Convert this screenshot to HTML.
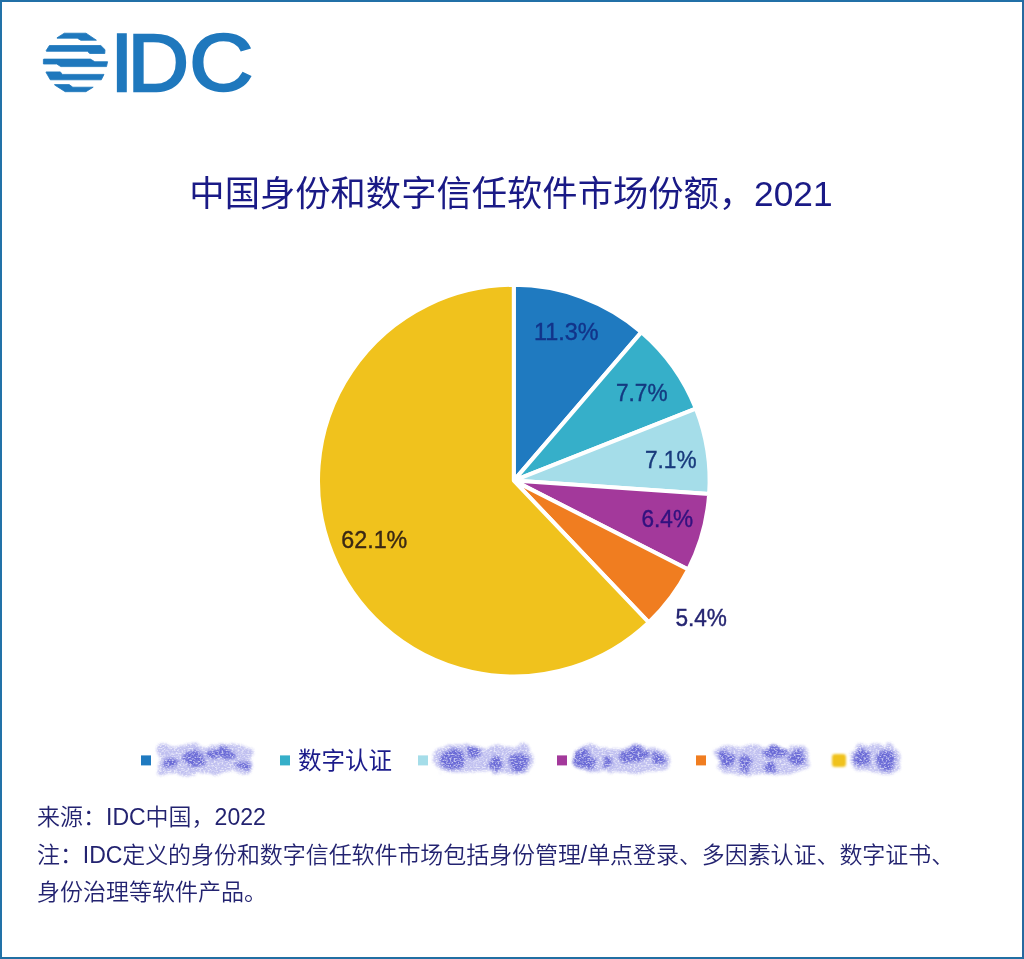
<!DOCTYPE html>
<html lang="zh-CN">
<head>
<meta charset="utf-8">
<title>中国身份和数字信任软件市场份额，2021</title>
<style>
html,body{margin:0;padding:0;background:#fff;}
body{width:1024px;height:959px;position:relative;overflow:hidden;
  font-family:"Liberation Sans","Noto Sans CJK SC",sans-serif;color:#1b1b8a;}
#frame{position:absolute;left:0;top:0;width:1024px;height:959px;box-sizing:border-box;
  border-style:solid;border-color:#2170a7 #27699f #216fa3 #2272a8;border-width:2px;background:#fff;}
#art{position:absolute;left:0;top:0;width:1024px;height:959px;}
.t{position:absolute;white-space:nowrap;line-height:1;}
#title{left:-1px;width:1024px;text-align:center;top:175.6px;font-size:35.3px;color:#1a1a86;}
.note{font-size:23px;left:37px;color:#232370;font-weight:350;}
</style>
</head>
<body>
<div id="frame"></div>
<svg id="art" width="1024" height="959" viewBox="0 0 1024 959">
  <defs>
    <filter id="smudge" x="-10%" y="-30%" width="120%" height="160%" color-interpolation-filters="sRGB">
      <feTurbulence type="fractalNoise" baseFrequency="0.07 0.09" numOctaves="2" seed="4" result="lo"/>
      <feDisplacementMap in="SourceGraphic" in2="lo" scale="12" xChannelSelector="R" yChannelSelector="G" result="d"/>
      <feGaussianBlur in="d" stdDeviation="1.8" result="b"/>
      <feTurbulence type="fractalNoise" baseFrequency="0.5 0.7" numOctaves="2" seed="11" result="n"/>
      <feColorMatrix in="n" type="matrix" values="0 0 0 0 0  0 0 0 0 0  0 0 0 0 0  0 0 0 3.6 -1.0" result="g"/>
      <feComposite in="b" in2="g" operator="in" result="grainy"/>
      <feColorMatrix in="b" type="matrix" values="1 0 0 0 0  0 1 0 0 0  0 0 1 0 0  0 0 0 0.4 0" result="soft"/>
      <feMerge><feMergeNode in="soft"/><feMergeNode in="grainy"/></feMerge>
    </filter>
    <filter id="soft" x="-30%" y="-30%" width="160%" height="160%"><feGaussianBlur stdDeviation="0.9"/></filter>
  </defs>

  <!-- IDC logo -->
  <g id="logo" fill="#1f78bd">
    <g stroke="#1f78bd" stroke-width="0.8" stroke-linejoin="round">
      <polygon points="57,37.8 64.3,33.2 86,33.2 96.4,40.2 80.8,40.3 77.3,38.2 57,38.2"/>
      <polygon points="46.2,50.6 49.4,45.5 100.8,45.5 105,49.7 104.8,53.5 89.8,53.5 87.4,51.3 46.4,51.3"/>
      <polygon points="43.4,59.3 44.1,59.1 90.4,59.1 94.8,61.7 107.6,61.7 106.5,66.6 60.8,66.6 56.7,64 43.4,64"/>
      <polygon points="46.1,71.9 60.4,71.9 62.3,74.4 104,74.4 101.3,79.8 50.3,79.8 46.1,72.5"/>
      <polygon points="54.6,84.6 69.2,84.6 72.8,87.2 93.2,87.2 85.9,91.7 65.2,91.7 54.6,85"/>
    </g>
    <text x="110" y="91.0" font-family="Liberation Sans, sans-serif" font-size="81.6" stroke="#1f78bd" stroke-width="2.3" stroke-linejoin="miter"><tspan x="110.4">I</tspan><tspan x="127.6" textLength="61.5" lengthAdjust="spacingAndGlyphs">D</tspan><tspan x="189.2" dy="-1.2" font-size="79" textLength="64" lengthAdjust="spacingAndGlyphs">C</tspan></text>
  </g>

  <!-- pie -->
  <g id="pie" stroke="#fff" stroke-width="4" stroke-linejoin="round">
    <path d="M513.80,480.60 L513.80,284.80 A195.8,195.8 0 0 1 641.43,332.11 Z" fill="#1f7ac0"/>
    <path d="M513.80,480.60 L641.43,332.11 A195.8,195.8 0 0 1 695.85,408.52 Z" fill="#36afc9"/>
    <path d="M513.80,480.60 L695.85,408.52 A195.8,195.8 0 0 1 709.13,494.12 Z" fill="#a5dde9"/>
    <path d="M513.80,480.60 L709.13,494.12 A195.8,195.8 0 0 1 688.26,569.49 Z" fill="#a3399b"/>
    <path d="M513.80,480.60 L688.26,569.49 A195.8,195.8 0 0 1 648.73,622.49 Z" fill="#f07d20"/>
    <path d="M513.80,480.60 L648.73,622.49 A195.8,195.8 0 1 1 513.80,284.80 Z" fill="#f0c21d"/>
  </g>
  <g id="pielabels" font-family="Liberation Sans, sans-serif" font-size="23.7" fill="#17267f" lengthAdjust="spacingAndGlyphs">
    <text x="534" y="340" textLength="64.5" lengthAdjust="spacingAndGlyphs" fill="#12348a" stroke="#12348a" stroke-width="0.4">11.3%</text>
    <text x="616" y="400.6" textLength="51.5" lengthAdjust="spacingAndGlyphs" fill="#143a80" stroke="#143a80" stroke-width="0.4">7.7%</text>
    <text x="645" y="467.9" textLength="51.5" lengthAdjust="spacingAndGlyphs" fill="#183a7c" stroke="#183a7c" stroke-width="0.4">7.1%</text>
    <text x="641.5" y="527" textLength="51.5" lengthAdjust="spacingAndGlyphs" fill="#32127f" stroke="#32127f" stroke-width="0.4">6.4%</text>
    <text x="675.4" y="626" textLength="51.5" lengthAdjust="spacingAndGlyphs" fill="#262672" stroke="#262672" stroke-width="0.4">5.4%</text>
    <text x="341.3" y="548.4" textLength="66" lengthAdjust="spacingAndGlyphs" fill="#3a2814" stroke="#3a2814" stroke-width="0.4">62.1%</text>
  </g>

  <!-- legend -->
  <g id="legend">
    <rect x="141" y="755.4" width="10" height="10" fill="#1f7ac0"/>
    <rect x="280" y="755.4" width="10" height="10" fill="#36afc9"/>
    <rect x="418" y="755.4" width="10" height="10" fill="#a5dde9"/>
    <rect x="557" y="755.4" width="10" height="10" fill="#a3399b"/>
    <rect x="696" y="755.4" width="10" height="10" fill="#f07d20"/>
    <rect x="832" y="754" width="14" height="13" rx="3" fill="#f0c21d" filter="url(#soft)"/>
    <g filter="url(#smudge)">
      <g fill="#c0c0f0">
        <rect x="159" y="745" width="92" height="29" rx="3"/>
        <rect x="435" y="746" width="98" height="26" rx="10"/>
        <rect x="576" y="747" width="92" height="25" rx="10"/>
        <rect x="715" y="747" width="94" height="26" rx="10"/>
        <rect x="852" y="745" width="48" height="28" rx="10"/>
      </g>
      <g fill="#6a6ad6">
        <ellipse cx="194" cy="759" rx="12" ry="8"/>
        <ellipse cx="222" cy="754" rx="14" ry="5"/>
        <ellipse cx="243" cy="765" rx="6" ry="5"/>
        <ellipse cx="172" cy="764" rx="8" ry="4"/>
        <ellipse cx="452" cy="760" rx="13" ry="9"/>
        <ellipse cx="475" cy="753" rx="7" ry="5"/>
        <ellipse cx="495" cy="763" rx="7" ry="8"/>
        <ellipse cx="518" cy="761" rx="9" ry="8"/>
        <ellipse cx="584" cy="760" rx="10" ry="9"/>
        <ellipse cx="609" cy="763" rx="5" ry="6"/>
        <ellipse cx="634" cy="756" rx="14" ry="8"/>
        <ellipse cx="657" cy="757" rx="7" ry="6"/>
        <ellipse cx="725" cy="759" rx="8" ry="9"/>
        <ellipse cx="746" cy="762" rx="7" ry="8"/>
        <ellipse cx="775" cy="753" rx="12" ry="7"/>
        <ellipse cx="770" cy="766" rx="8" ry="4"/>
        <ellipse cx="798" cy="758" rx="7" ry="6"/>
        <ellipse cx="862" cy="758" rx="8" ry="9"/>
        <ellipse cx="887" cy="760" rx="8" ry="9"/>
      </g>
    </g>
    <text x="298" y="769" font-family="Liberation Sans, Noto Sans CJK SC, sans-serif" font-size="23.5" fill="#1b1b8a">数字认证</text>
  </g>
</svg>

<div class="t" id="title">中国身份和数字信任软件市场份额，2021</div>
<div class="t note" style="top:806px;">来源：IDC中国，2022</div>
<div class="t note" style="top:843.5px;letter-spacing:-0.07px;">注：IDC定义的身份和数字信任软件市场包括身份管理/单点登录、多因素认证、数字证书、</div>
<div class="t note" style="top:881px;">身份治理等软件产品。</div>
</body>
</html>
